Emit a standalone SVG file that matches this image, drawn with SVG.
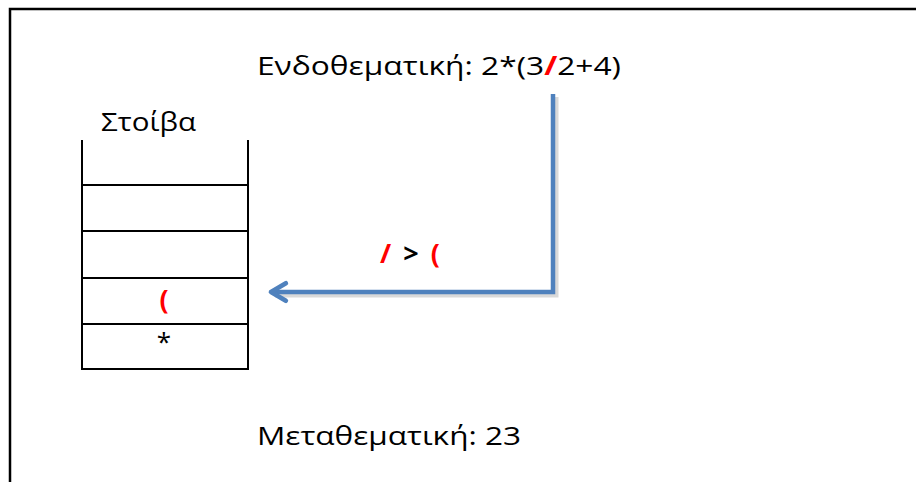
<svg xmlns="http://www.w3.org/2000/svg" width="916" height="482" viewBox="0 0 916 482">
<defs>
<style>
.t{font-family:"Open Sans","Noto Sans","Liberation Sans",sans-serif;font-size:26px;fill:#000}
.b{font-family:"Open Sans","Noto Sans","Liberation Sans",sans-serif;font-size:27px;font-weight:bold}
.red{fill:#FF0000}
.cell{fill:none;stroke:#000;stroke-width:2}
.conn{fill:none;stroke:#4F81BD;stroke-width:4.5;stroke-linejoin:miter}
.shadow{fill:none;stroke:#000;stroke-opacity:0.15;stroke-width:5}
</style>
<marker id="arrow" viewBox="0 0 10 10" refX="8" refY="5" markerWidth="5.5" markerHeight="5.5" orient="auto" markerUnits="strokeWidth">
<path d="M2,1.5 L8,5 L2,8.5" fill="none" stroke="#4F81BD" stroke-width="1.9" stroke-linecap="round" stroke-linejoin="round"/>
</marker>
</defs>
<rect x="0" y="0" width="916" height="482" fill="#fff"/>
<g id="frame">
<path d="M10,482 L10,9 L916,9" fill="none" stroke="#000" stroke-width="2.5"/>
</g>
<g id="infix">
<text class="t" x="257" y="75" textLength="364" lengthAdjust="spacingAndGlyphs">Ενδοθεματική: 2*(3<tspan class="red" font-weight="bold">/</tspan>2+4)</text>
</g>
<g id="stack">
<text class="t" x="101" y="131" textLength="95" lengthAdjust="spacingAndGlyphs">Στοίβα</text>
<path class="cell" d="M82,140 L82,369 L248,369 L248,140"/>
<line class="cell" x1="82" y1="185" x2="248" y2="185"/>
<line class="cell" x1="82" y1="231" x2="248" y2="231"/>
<line class="cell" x1="82" y1="278" x2="248" y2="278"/>
<line class="cell" x1="82" y1="324" x2="248" y2="324"/>
<text class="b red" x="164" y="309" text-anchor="middle">(</text>
<text class="t" x="164" y="351" text-anchor="middle">*</text>
</g>
<g id="postfix">
<text class="t" x="257" y="445" textLength="264" lengthAdjust="spacingAndGlyphs">Μεταθεματική: 23</text>
</g>
<g id="compare">
<text class="b" x="380" y="263" textLength="60" lengthAdjust="spacing"><tspan class="red">/</tspan> &gt; <tspan class="red">(</tspan></text>
</g>
<g id="connectors">
<path class="shadow" d="M556,97 L556,295 L275,295"/>
<path class="conn" d="M553,94 L553,292 L271,292" marker-end="url(#arrow)"/>
</g>
</svg>
